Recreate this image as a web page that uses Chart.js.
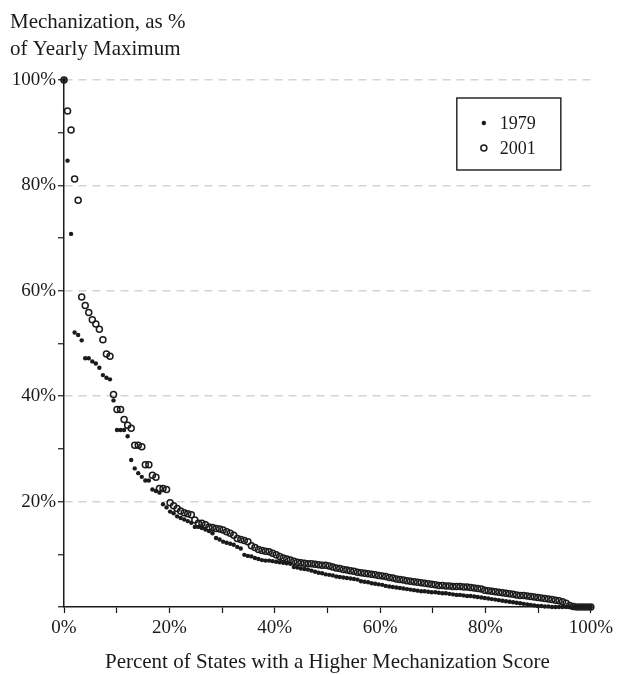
<!DOCTYPE html>
<html>
<head>
<meta charset="utf-8">
<script src="https://cdn.jsdelivr.net/npm/chart.js@4.4.1/dist/chart.umd.min.js"></script>
<style>
html, body { margin: 0; padding: 0; background: #fff; }
</style>
</head>
<body>
<canvas id="myChart" width="617" height="675"></canvas>
<script>
// states ranked by mechanization score, % of the yearly maximum
var mech1979 = [
    100, 84.7, 70.8, 52.1, 51.6, 50.6, 47.2, 47.2, 46.6, 46.2,
    45.4, 44.0, 43.5, 43.2, 39.2, 33.6, 33.6, 33.6, 32.4, 27.9,
    26.3, 25.4, 24.7, 24.0, 24.0, 22.3, 22.0, 21.7, 19.5, 18.9,
    18.1, 17.8, 17.2, 16.9, 16.6, 16.3, 16.0, 15.2, 15.2, 15.0,
    14.7, 14.4, 14.0, 13.1, 12.8, 12.4, 12.2, 12.0, 11.8, 11.4,
    11.1, 9.9, 9.7, 9.6, 9.3, 9.1, 8.9, 8.8, 8.8, 8.7,
    8.6, 8.5, 8.4, 8.3, 8.2, 7.6, 7.5, 7.3, 7.2, 7.1,
    6.9, 6.7, 6.5, 6.4, 6.2, 6.1, 6.0, 5.8, 5.7, 5.6,
    5.5, 5.4, 5.3, 5.2, 4.9, 4.8, 4.7, 4.5, 4.4, 4.3,
    4.2, 4.0, 3.9, 3.8, 3.7, 3.6, 3.5, 3.4, 3.3, 3.2,
    3.1, 3.0, 3.0, 2.9, 2.8, 2.8, 2.7, 2.6, 2.6, 2.5,
    2.4, 2.3, 2.3, 2.2, 2.1, 2.1, 2.0, 1.9, 1.8, 1.7,
    1.6, 1.5, 1.4, 1.3, 1.2, 1.1, 1.0, 0.9, 0.8, 0.7,
    0.6, 0.5, 0.4, 0.3, 0.2, 0.2, 0.1, 0.1, 0, 0,
    0, 0, 0, 0, 0, 0, 0, 0, 0, 0
];
var mech2001 = [
    100, 94.1, 90.5, 81.2, 77.2, 58.8, 57.2, 55.9, 54.5, 53.7,
    52.7, 50.7, 48.0, 47.6, 40.3, 37.5, 37.5, 35.6, 34.5, 33.9,
    30.7, 30.7, 30.4, 27.0, 27.0, 25.0, 24.6, 22.5, 22.5, 22.3,
    19.8, 19.2, 18.7, 18.2, 17.9, 17.7, 17.5, 16.5, 15.9, 15.9,
    15.6, 15.2, 15.1, 14.9, 14.8, 14.6, 14.3, 14.0, 13.6, 13.0,
    12.8, 12.6, 12.4, 11.6, 11.3, 10.9, 10.7, 10.6, 10.5, 10.2,
    9.9, 9.6, 9.3, 9.1, 8.9, 8.7, 8.5, 8.4, 8.3, 8.2,
    8.2, 8.1, 8.0, 7.9, 7.9, 7.8, 7.6, 7.4, 7.3, 7.1,
    7.0, 6.9, 6.8, 6.6, 6.5, 6.4, 6.3, 6.2, 6.1, 6.0,
    5.9, 5.8, 5.6, 5.5, 5.3, 5.2, 5.1, 5.0, 4.9, 4.8,
    4.7, 4.6, 4.5, 4.4, 4.3, 4.2, 4.1, 4.1, 4.0, 4.0,
    3.9, 3.9, 3.9, 3.8, 3.8, 3.7, 3.6, 3.5, 3.4, 3.2,
    3.1, 3.0, 2.9, 2.8, 2.7, 2.6, 2.5, 2.4, 2.3, 2.2,
    2.2, 2.1, 2.0, 1.9, 1.8, 1.7, 1.6, 1.5, 1.4, 1.3,
    1.2, 1.0, 0.7, 0.3, 0.1, 0, 0, 0, 0, 0
];
var xLabelledTicks = [0, 20, 40, 60, 80, 100];
var yLabelledTicks = [20, 40, 60, 80, 100];

var serif = '"Liberation Serif", "Times New Roman", serif';
var ink = '#1a1a1a';

// x = share of states ranked above this one
function rankPoints(values) {
    var n = values.length;
    return values.map(function(v, i) {
        return { x: i * 100 / (n - 1), y: v };
    });
}

// legend box drawn inside the plot, top right
var boxLegend = {
    id: 'boxLegend',
    afterDatasetsDraw: function(chart) {
        var ctx = chart.ctx;
        var area = chart.chartArea;
        var left = area.right - 134, top = area.top + 18, w = 104, h = 72;
        ctx.save();
        ctx.fillStyle = '#fff';
        ctx.fillRect(left, top, w, h);
        ctx.strokeStyle = ink;
        ctx.lineWidth = 1.4;
        ctx.strokeRect(left, top, w, h);
        ctx.font = '18px ' + serif;
        ctx.textBaseline = 'middle';
        chart.data.datasets.forEach(function(ds, i) {
            var y = top + 25 + i * 25;
            ctx.beginPath();
            ctx.arc(left + 27, y, ds.pointRadius, 0, Math.PI * 2);
            if (ds.pointBorderWidth > 0) {
                ctx.lineWidth = ds.pointBorderWidth;
                ctx.strokeStyle = ds.pointBorderColor;
                ctx.stroke();
            } else {
                ctx.fillStyle = ds.pointBackgroundColor;
                ctx.fill();
            }
            ctx.fillStyle = ink;
            ctx.fillText(ds.label, left + 43, y + 1);
        });
        ctx.restore();
    }
};

var ctx = document.getElementById('myChart').getContext('2d');
var chart = new Chart(ctx, {
    type: 'scatter',
    data: {
        datasets: [{
            label: '1979',
            data: rankPoints(mech1979),
            pointRadius: 2.2,
            pointBorderWidth: 0,
            pointBackgroundColor: ink,
            pointBorderColor: ink,
            clip: false
        }, {
            label: '2001',
            data: rankPoints(mech2001),
            pointRadius: 3,
            pointBorderWidth: 1.5,
            pointBackgroundColor: 'rgba(255,255,255,0)',
            pointBorderColor: ink,
            clip: false
        }]
    },
    options: {
        responsive: false,
        animation: false,
        events: [],
        layout: {
            padding: { left: 10, right: 26, top: 0, bottom: 0 }
        },
        scales: {
            x: {
                type: 'linear',
                min: 0,
                max: 100,
                afterFit: function(scale) { scale.height = 68; },
                border: { display: true, color: ink, width: 1.5 },
                grid: {
                    drawOnChartArea: false,
                    drawTicks: true,
                    tickLength: 6,
                    tickColor: ink,
                    tickWidth: 1.2
                },
                ticks: {
                    stepSize: 10,
                    autoSkip: false,
                    maxRotation: 0,
                    padding: 4,
                    color: ink,
                    font: { family: serif, size: 19 },
                    callback: function(v) {
                        return xLabelledTicks.indexOf(v) >= 0 ? v + '%' : '';
                    }
                },
                title: {
                    display: true,
                    text: 'Percent of States with a Higher Mechanization Score',
                    color: ink,
                    font: { family: serif, size: 21, lineHeight: 1.2 },
                    padding: { top: 0, bottom: 0 }
                }
            },
            y: {
                min: 0,
                max: 100,
                afterFit: function(scale) { scale.width = 54; },
                border: { display: true, color: ink, width: 1.5, dash: [8, 6] },
                grid: {
                    drawOnChartArea: true,
                    drawTicks: true,
                    tickLength: 6,
                    tickColor: ink,
                    tickWidth: 1.2,
                    lineWidth: 1.5,
                    color: function(c) {
                        return yLabelledTicks.indexOf(c.tick.value) >= 0 ? '#d4d4d4' : 'rgba(0,0,0,0)';
                    }
                },
                ticks: {
                    stepSize: 10,
                    autoSkip: false,
                    padding: 2,
                    color: ink,
                    font: { family: serif, size: 19 },
                    callback: function(v) {
                        return yLabelledTicks.indexOf(v) >= 0 ? v + '%' : '';
                    }
                }
            }
        },
        plugins: {
            legend: { display: false },
            tooltip: { enabled: false },
            title: {
                display: true,
                text: ['Mechanization, as %', 'of Yearly Maximum'],
                align: 'start',
                color: ink,
                font: { family: serif, size: 21, weight: 'normal', lineHeight: 1.3 },
                padding: { top: 9, bottom: 16.4 }
            }
        }
    },
    plugins: [boxLegend]
});
</script>
</body>
</html>
